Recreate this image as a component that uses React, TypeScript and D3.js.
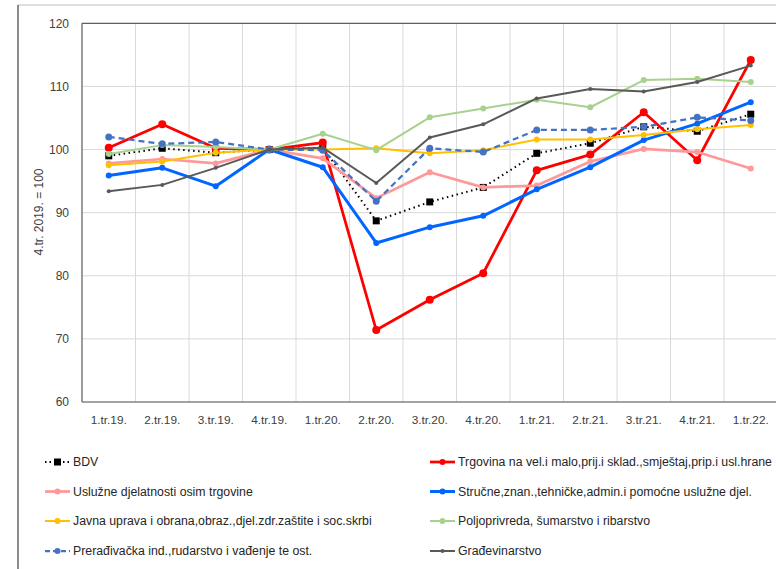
import React from "react";
import * as d3 from "d3";

const categories = ["1.tr.19.", "2.tr.19.", "3.tr.19.", "4.tr.19.", "1.tr.20.", "2.tr.20.", "3.tr.20.", "4.tr.20.", "1.tr.21.", "2.tr.21.", "3.tr.21.", "4.tr.21.", "1.tr.22."];
const yTicks = [60, 70, 80, 90, 100, 110, 120];

const bdv = [99.0, 100.2, 99.5, 100, 100.3, 88.7, 91.7, 94.0, 99.4, 101.0, 103.6, 102.9, 105.6];
const trgovina = [100.3, 104.0, 100.2, 100, 101.1, 71.4, 76.2, 80.4, 96.7, 99.2, 105.9, 98.3, 114.2];
const usluzne = [97.8, 98.5, 97.8, 100, 98.6, 92.3, 96.4, 94.0, 94.3, 98.1, 100.1, 99.6, 97.0];
const strucne = [95.9, 97.1, 94.2, 100, 97.2, 85.2, 87.7, 89.5, 93.7, 97.2, 101.5, 104.1, 107.5];
const javna = [97.5, 98.1, 99.5, 100, 100.0, 100.2, 99.4, 99.9, 101.6, 101.6, 102.3, 103.2, 103.9];
const poljoprivreda = [99.3, 100.7, 100.4, 100, 102.5, 99.9, 105.1, 106.5, 107.9, 106.7, 111.0, 111.2, 110.7];
const preradjivacka = [102.0, 100.9, 101.2, 100, 99.9, 91.8, 100.2, 99.6, 103.1, 103.1, 103.6, 105.1, 104.6];
const gradjevinarstvo = [93.4, 94.4, 97.1, 100, 100.3, 94.7, 101.9, 104.0, 108.1, 109.6, 109.2, 110.7, 113.3];

type Series = {
  name: string;
  values: number[];
  color: string;
  width: number;
  dash?: string;
  marker: "square" | "circle";
  r: number;
};

const series: Series[] = [
  { name: "BDV", values: bdv, color: "#000000", width: 2, dash: "1.5 3.5", marker: "square", r: 3.5 },
  { name: "Trgovina na vel.i malo,prij.i sklad.,smještaj,prip.i usl.hrane", values: trgovina, color: "#ff0000", width: 2.75, marker: "circle", r: 4 },
  { name: "Uslužne djelatnosti osim trgovine", values: usluzne, color: "#ff9999", width: 2.75, marker: "circle", r: 3 },
  { name: "Stručne,znan.,tehničke,admin.i pomoćne uslužne djel.", values: strucne, color: "#0066ff", width: 3, marker: "circle", r: 3 },
  { name: "Javna uprava i obrana,obraz.,djel.zdr.zaštite i soc.skrbi", values: javna, color: "#ffc000", width: 2, marker: "circle", r: 3 },
  { name: "Poljoprivreda, šumarstvo i ribarstvo", values: poljoprivreda, color: "#a9d18e", width: 2, marker: "circle", r: 3 },
  { name: "Prerađivačka ind.,rudarstvo i vađenje te ost.", values: preradjivacka, color: "#4472c4", width: 2.25, dash: "6 4", marker: "circle", r: 3.5 },
  { name: "Građevinarstvo", values: gradjevinarstvo, color: "#595959", width: 2, marker: "circle", r: 2 },
];

const W = 776;
const H = 569;
const plotLeft = 82;
const plotRight = 777.5;
const plotTop = 23.3;
const plotBottom = 402;

export default function App() {
  const x = d3.scaleBand<string>().domain(categories).range([plotLeft, plotRight]).padding(0);
  const y = d3.scaleLinear().domain([60, 120]).range([plotBottom, plotTop]);
  const cx = (i: number) => (x(categories[i]) as number) + x.bandwidth() / 2;
  const line = d3
    .line<number>()
    .x((_, i) => cx(i))
    .y((d) => y(d));

  const font = "'Liberation Sans', Arial, sans-serif";
  const legendRowsY = [462, 491.5, 521, 551];
  const legendColX = [45, 430];

  return (
    <svg width={W} height={H} style={{ position: "absolute", left: 0, top: 0, background: "#fff" }}>
      <rect x={0} y={0} width={W} height={H} fill="#fff" />
      {/* outer chart frame */}
      <line x1={18} y1={5} x2={W} y2={5} stroke="#bfbfbf" strokeWidth={1.2} />
      <line x1={18} y1={5} x2={18} y2={H} stroke="#404040" strokeWidth={1.2} />

      {/* gridlines */}
      {yTicks.map((t) => (
        <line key={"hg" + t} x1={plotLeft} x2={plotRight} y1={y(t)} y2={y(t)} stroke="#d9d9d9" strokeWidth={1} />
      ))}
      {categories.map((c, i) =>
        i === 0 ? null : (
          <line key={"vg" + c} x1={x(c)} x2={x(c)} y1={plotTop} y2={plotBottom} stroke="#d9d9d9" strokeWidth={1} />
        )
      )}
      {/* plot frame */}
      <line x1={plotLeft} x2={plotRight} y1={plotTop} y2={plotTop} stroke="#404040" strokeWidth={1} />
      <line x1={plotLeft} x2={plotLeft} y1={plotTop} y2={plotBottom} stroke="#595959" strokeWidth={1.2} />
      <line x1={plotLeft} x2={plotRight} y1={plotBottom} y2={plotBottom} stroke="#595959" strokeWidth={1.2} />

      {/* y tick labels */}
      {yTicks.map((t) => (
        <text key={"yt" + t} x={69} y={y(t)} dy="0.35em" textAnchor="end" fontFamily={font} fontSize={12} fill="#404040">
          {t}
        </text>
      ))}
      {/* x tick labels */}
      {categories.map((c, i) => (
        <text key={"xt" + c} x={cx(i)} y={424} textAnchor="middle" fontFamily={font} fontSize={11.8} fill="#404040">
          {c}
        </text>
      ))}
      {/* y axis title */}
      <text
        transform={`translate(43,212) rotate(-90)`}
        textAnchor="middle"
        fontFamily={font}
        fontSize={12}
        fill="#404040"
      >
        4.tr. 2019. = 100
      </text>

      {/* series */}
      {series.map((s) => (
        <g key={s.name}>
          <path d={line(s.values) || ""} fill="none" stroke={s.color} strokeWidth={s.width} strokeDasharray={s.dash} strokeLinejoin="round" />
          {s.values.map((v, i) =>
            s.marker === "square" ? (
              <rect key={i} x={cx(i) - s.r} y={y(v) - s.r} width={s.r * 2} height={s.r * 2} fill={s.color} />
            ) : (
              <circle key={i} cx={cx(i)} cy={y(v)} r={s.r} fill={s.color} />
            )
          )}
        </g>
      ))}

      {/* legend */}
      {series.map((s, k) => {
        const col = k % 2;
        const row = Math.floor(k / 2);
        const lx = legendColX[col];
        const ly = legendRowsY[row];
        return (
          <g key={"lg" + s.name}>
            <line x1={lx} x2={lx + 25} y1={ly} y2={ly} stroke={s.color} strokeWidth={s.width} strokeDasharray={s.dash ? (s.marker === "square" ? "1.5 3" : "5 3") : undefined} />
            {s.marker === "square" ? (
              <rect x={lx + 12.5 - 3.5} y={ly - 3.5} width={7} height={7} fill={s.color} />
            ) : (
              <circle cx={lx + 12.5} cy={ly} r={Math.min(s.r, 3)} fill={s.color} />
            )}
            <text x={lx + 28} y={ly} dy="0.35em" fontFamily={font} fontSize={12.3} fill="#262626">
              {s.name}
            </text>
          </g>
        );
      })}
    </svg>
  );
}
